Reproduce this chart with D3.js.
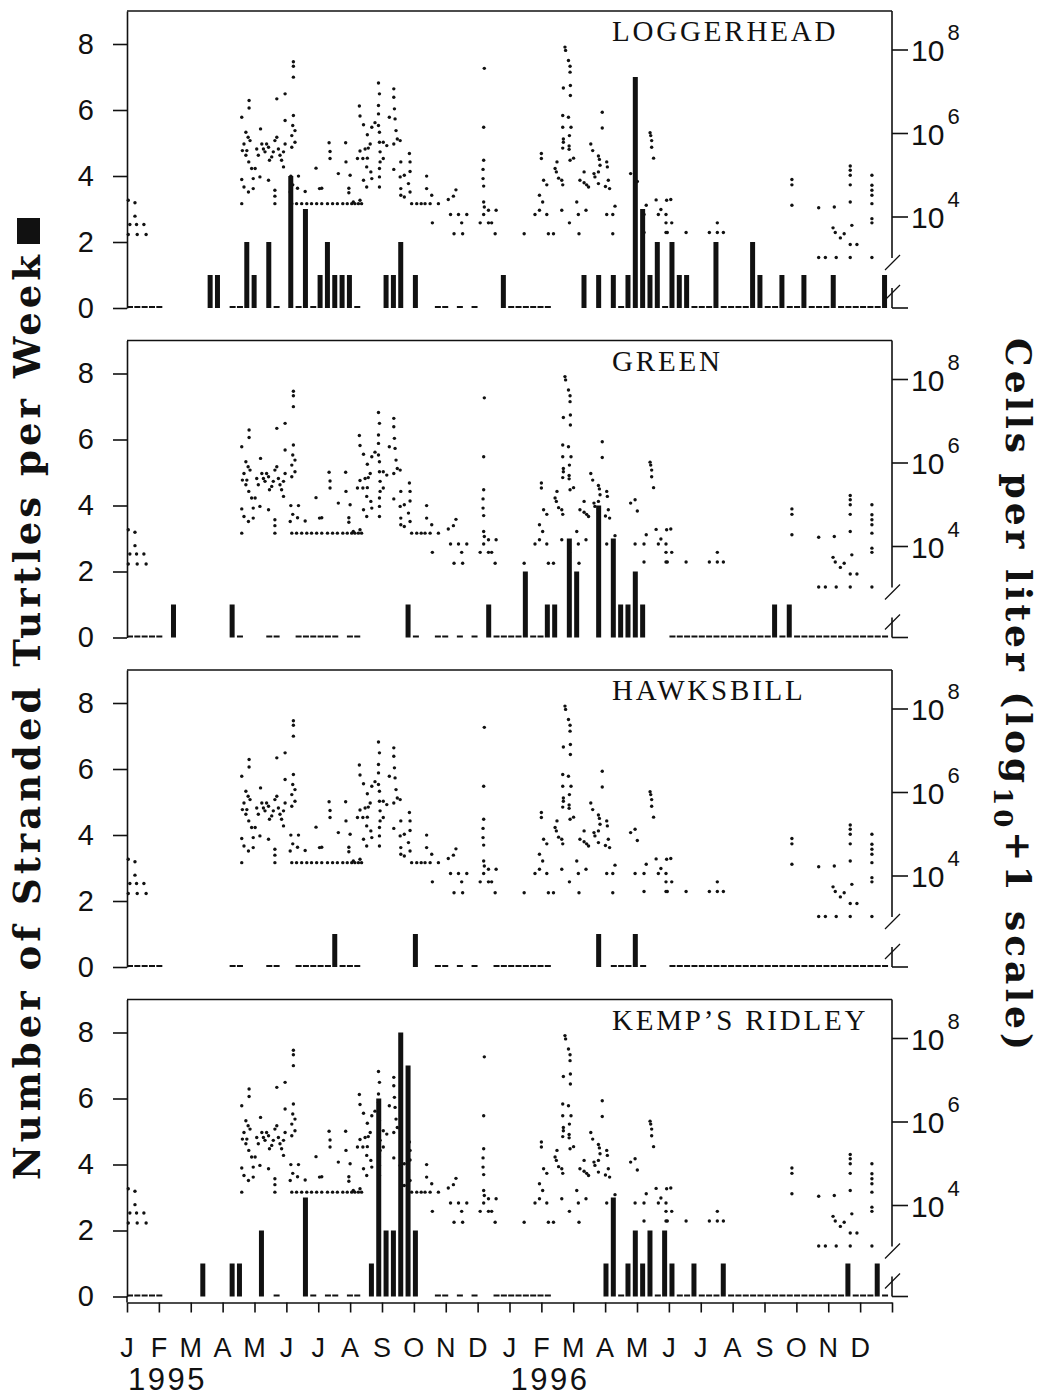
<!DOCTYPE html>
<html><head><meta charset="utf-8">
<script src="https://cdn.jsdelivr.net/npm/d3@7"></script>
<style>body{margin:0;background:#fff}svg{display:block}</style>
</head><body>
<svg id="chart" width="1045" height="1395"></svg>
<script>
// ---------- DATA ----------
const monthLabels = ["J","F","M","A","M","J","J","A","S","O","N","D","J","F","M","A","M","J","J","A","S","O","N","D"];
const yearLabels = [{month: 0, label: "1995"}, {month: 12, label: "1996"}];
const speciesNames = ["LOGGERHEAD", "GREEN", "HAWKSBILL", "KEMP\u2019S RIDLEY"];
const leftTicks = [0, 2, 4, 6, 8];
const rightTicks = [4, 6, 8];          // log10 cells per liter
const _ = null;                          // week without stranding survey

// Weekly stranding counts, week 0 = first week of Jan 1995 (13 weeks per row)
const loggerhead = [
  0,0,0,0,0,_,_,_,_,_,_,1,1,
  _,0,0,2,1,_,2,0,_,4,0,3,0,
  1,2,1,1,1,0,_,_,_,1,1,2,_,
  1,_,_,0,0,_,0,_,0,_,_,_,1,
  0,0,0,0,0,0,_,_,_,_,1,_,1,
  _,1,0,1,7,3,1,2,0,2,1,1,0,
  0,0,2,0,0,0,0,2,1,0,0,1,0,
  0,1,0,0,0,1,0,0,0,0,0,0,1];
const green = [
  0,0,0,0,0,_,1,_,_,_,_,_,_,
  _,1,0,_,_,_,0,0,_,_,0,0,0,
  0,0,0,_,0,0,_,_,_,_,_,_,1,
  0,_,_,0,0,_,0,_,0,_,1,0,0,
  0,0,2,0,0,1,1,_,3,2,_,_,4,
  _,3,1,1,2,1,_,_,_,0,0,0,0,
  0,0,0,0,0,0,0,0,0,0,1,0,1,
  0,0,0,0,0,0,0,0,0,0,0,0,0];
const hawksbill = [
  0,0,0,0,0,_,_,_,_,_,_,_,_,
  _,0,0,_,_,_,0,0,_,_,0,0,0,
  0,0,1,0,0,0,_,_,_,_,_,_,_,
  1,_,_,0,0,_,0,_,0,_,_,0,0,
  0,0,0,0,0,0,_,_,_,_,_,_,1,
  _,0,0,0,1,0,_,_,_,0,0,0,0,
  0,0,0,0,0,0,0,0,0,0,0,0,0,
  0,0,0,0,0,0,0,0,0,0,0,0,0];
const kempsRidley = [
  0,0,0,0,0,_,_,_,_,_,1,_,_,
  _,1,1,_,_,2,_,0,_,_,_,3,0,
  _,0,0,_,0,0,_,1,6,2,2,8,7,
  2,_,_,0,0,_,0,_,0,_,_,0,0,
  0,0,0,0,0,0,_,_,_,_,_,_,_,
  1,3,0,1,2,1,2,0,2,1,0,0,1,
  0,0,0,1,0,0,0,0,0,0,0,0,0,
  0,0,0,0,0,0,0,1,0,0,0,1,0];
const speciesCounts = [loggerhead, green, hawksbill, kempsRidley];

// Cell counts: [month since Jan 1995, log10(cells per liter + 1)]
const cellDots = [
[0.04,4.40],[0.25,4.34],[0.25,4.02],[0.09,3.82],[0.30,3.82],[0.53,3.82],[0.04,3.58],[0.32,3.58],[0.60,3.58],
[3.60,6.39],[3.83,6.79],[3.83,6.61],[3.73,6.03],[3.80,5.91],[3.67,5.75],[3.62,5.59],[3.76,5.59],[3.86,5.83],[3.73,5.48],[3.82,5.32],
[3.91,5.16],[4.02,5.16],[3.96,4.92],[3.96,4.68],[3.60,4.90],[3.67,4.72],[3.81,4.60],[3.60,4.32],[4.07,5.63],[4.12,5.48],[4.19,6.11],
[4.23,5.75],[4.28,5.63],[4.38,5.75],[4.33,5.56],[4.44,5.67],[4.47,5.36],[4.54,5.44],[4.59,5.56],[4.64,5.83],[4.70,5.91],[4.70,6.83],
[4.75,5.63],[4.80,5.48],[4.85,5.36],[4.91,5.56],[4.96,5.75],[4.96,6.31],[4.96,6.95],[4.91,5.20],[4.64,4.64],[4.64,4.50],[4.64,4.32],
[4.44,4.88],[4.17,4.96],
[5.22,7.72],[5.22,7.61],[5.22,7.35],[5.22,6.43],[5.20,6.19],[5.17,5.95],[5.27,6.07],[5.17,5.67],[5.27,5.79],[5.14,4.98],[5.20,4.77],
[5.12,4.60],[5.38,4.98],[5.35,4.69],[5.59,4.61],[5.93,5.17],[6.04,4.68],[6.11,4.69],[6.34,5.78],[6.37,5.57],[6.37,5.40],[6.63,5.04],
[6.86,5.78],[6.87,5.32],[7.00,5.00],[6.96,4.69],[6.96,4.58],
[7.29,6.66],[7.31,6.42],[7.42,6.21],[7.31,5.58],[7.23,5.40],[7.40,5.40],[7.54,5.41],[7.47,5.63],[7.57,5.65],[7.63,5.75],[7.54,5.97],
[7.68,6.15],[7.78,6.26],[7.89,6.19],[7.89,7.21],[7.92,6.95],[7.89,6.67],[7.89,6.47],[7.92,6.03],[7.92,5.79],[7.52,5.20],[7.42,4.88],
[7.52,4.72],[7.65,5.08],[7.68,4.92],[7.92,5.16],[7.92,4.96],[7.92,4.72],
[5.17,4.32],[5.32,4.32],[5.48,4.32],[5.64,4.32],[5.79,4.32],[5.95,4.32],[6.11,4.32],[6.29,4.32],[6.45,4.32],[6.60,4.32],[6.77,4.32],
[6.91,4.32],[7.05,4.32],[7.15,4.32],[7.26,4.32],[7.36,4.32],[7.10,4.36],[7.31,4.40],
[7.94,5.56],[7.94,5.32],[8.04,5.79],[8.04,5.40],[8.15,5.71],[8.23,6.39],[8.37,7.07],[8.37,6.87],[8.39,6.59],[8.41,6.35],[8.37,5.75],
[8.44,6.07],[8.48,5.87],[8.57,5.83],[8.59,5.32],[8.57,4.96],[8.37,5.14],[8.59,4.68],[8.59,4.52],[8.70,5.00],[8.70,4.48],[8.83,4.80],
[8.86,5.52],[8.88,5.32],[8.88,5.09],[8.88,4.60],[8.93,4.32],[9.09,4.32],[9.23,4.32],[9.35,4.32],[9.51,4.32],[9.40,4.98],[9.40,4.68],
[9.56,4.52],[9.58,3.86],[9.77,4.32],[10.08,4.42],[10.24,4.50],[10.32,4.65],[10.15,4.06],[10.40,4.06],[10.66,4.06],[10.50,3.86],
[10.26,3.60],[10.53,3.60],
[11.21,7.56],[11.19,6.15],[11.19,5.36],[11.17,5.14],[11.17,4.92],[11.19,4.74],[11.19,4.36],[11.21,4.24],[11.19,4.06],[11.08,3.86],
[11.34,3.86],[11.44,3.86],[11.34,4.16],[11.58,4.16],[11.55,3.60],
[12.46,3.60],[12.80,4.06],[12.94,4.16],[13.04,4.36],[12.94,4.52],[13.07,4.88],[13.17,4.77],[13.00,5.40],[13.00,5.52],[13.17,4.06],
[13.22,3.60],[13.38,3.60],[13.43,5.16],[13.49,5.32],[13.47,5.08],[13.54,4.93],[13.64,4.88],[13.67,4.77],[13.64,4.16],
[13.74,8.07],[13.76,7.99],[13.85,7.75],[13.90,7.61],[13.90,7.47],[13.69,7.09],[13.91,7.15],[13.91,6.91],[13.67,6.43],[13.85,6.39],
[13.67,6.15],[13.93,6.15],[13.88,5.95],[13.69,5.87],[13.69,5.79],[13.87,5.70],[13.87,5.62],[13.67,5.65],[14.01,5.41],[13.90,5.36],
[14.11,4.36],[13.88,3.86],[14.18,3.60],[14.16,4.06],[14.34,5.08],[14.21,4.88],[14.34,4.82],[14.42,4.77],[14.48,4.72],[14.40,4.16],
[14.55,5.75],[14.61,5.59],[14.65,5.04],[14.68,4.96],[14.79,5.46],[14.82,5.38],[14.79,5.08],[14.84,5.24],[14.79,4.80],[14.91,6.51],
[14.91,6.13],[15.05,5.32],[15.07,5.20],[15.10,4.88],[15.01,4.73],[15.14,4.68],[15.05,4.06],[15.24,4.06],[15.31,4.26],[15.24,3.60],
[15.80,5.04],[15.94,5.12],[16.01,4.85],[15.94,4.06],
[16.41,6.02],[16.43,5.95],[16.46,5.83],[16.46,5.67],[16.52,5.41],[16.29,4.28],[16.22,4.06],[16.22,3.63],[16.60,4.41],[16.67,4.06],
[16.75,4.18],[16.91,4.06],[16.91,3.86],[17.09,3.86],[16.93,4.40],[17.06,4.42],[16.91,3.63],[16.95,3.63],[17.54,3.63],[18.27,3.63],
[18.52,3.86],[18.52,3.63],[18.71,3.63],
[20.86,4.90],[20.86,4.77],[20.86,4.28],
[21.70,4.22],[22.19,4.24],[21.70,3.03],[21.91,3.03],[22.25,3.03],[22.15,3.74],[22.22,3.63],[22.38,3.50],[22.50,3.60],[22.74,3.80],
[22.69,4.36],[22.69,4.77],[22.69,5.00],[22.69,5.12],[22.69,5.22],[22.69,3.34],[22.90,3.34],[22.69,3.03],
[23.37,5.00],[23.37,4.76],[23.37,4.64],[23.37,4.52],[23.37,4.32],[23.37,3.96],[23.37,3.86],[23.37,3.03]
];

// ---------- DRAWING ----------
const svg = d3.select("#chart");
const ink = "#111";
const sans = "'Liberation Sans', Arial, sans-serif";
const x = d3.scaleLinear().domain([0, 24]).range([127, 892]);
const weekToMonth = w => w * 7 / 30.4375;
const xLeft = x.range()[0], xRight = x.range()[1];

speciesCounts.forEach((counts, i) => {
  const b = 308 + i * 329.5;
  const yL = d3.scaleLinear().domain([0, 9]).range([b, b - 297]);
  const yR = d3.scaleLinear().domain([4, 8]).range([b - 91, b - 258]);
  const g = svg.append("g");

  // top frame
  g.append("line").attr("x1", xLeft).attr("x2", xRight).attr("y1", yL(9)).attr("y2", yL(9))
    .attr("stroke", ink).attr("stroke-width", 1.6);

  // left axis
  const la = g.append("g").attr("transform", `translate(${xLeft},0)`)
    .call(d3.axisLeft(yL).tickValues(leftTicks).tickSize(14).tickSizeOuter(0).tickPadding(19));
  la.selectAll("path,line").attr("stroke", ink).attr("stroke-width", 1.6);
  la.selectAll("text").attr("font-family", sans).attr("font-size", 29).attr("fill", ink);

  // right axis with break
  g.append("line").attr("x1", xRight).attr("x2", xRight).attr("y1", yL(9)).attr("y2", b - 50)
    .attr("stroke", ink).attr("stroke-width", 1.6);
  g.append("line").attr("x1", xRight).attr("x2", xRight).attr("y1", b - 20).attr("y2", b)
    .attr("stroke", ink).attr("stroke-width", 1.6);
  [[b - 38, b - 53], [b - 8, b - 23]].forEach(([y1, y2]) => {
    g.append("line").attr("x1", xRight - 7).attr("x2", xRight + 8).attr("y1", y1).attr("y2", y2)
      .attr("stroke", ink).attr("stroke-width", 1.2);
  });
  const rt = [...rightTicks.map(t => yR(t)), yL(0)];
  g.selectAll("line.rtick").data(rt).join("line").attr("class", "rtick")
    .attr("x1", xRight).attr("x2", xRight + 16).attr("y1", d => d).attr("y2", d => d)
    .attr("stroke", ink).attr("stroke-width", 1.6);
  rightTicks.forEach(t => {
    const tx = g.append("text").attr("x", xRight + 19).attr("y", yR(t) + 11)
      .attr("font-family", sans).attr("font-size", 30).attr("fill", ink);
    tx.append("tspan").text("10");
    tx.append("tspan").attr("dx", 3).attr("dy", -21).attr("font-size", 22).text(String(t));
  });

  // cell-count dots
  g.append("g").selectAll("circle").data(cellDots).join("circle")
    .attr("cx", d => x(d[0])).attr("cy", d => yR(d[1])).attr("r", 1.7).attr("fill", ink);

  // weekly bars
  const weeks = counts.map((v, w) => ({w, v})).filter(d => d.v !== null);
  g.append("g").selectAll("rect").data(weeks).join("rect")
    .attr("x", d => x(weekToMonth(d.w)))
    .attr("width", d => d.v > 0 ? 5 : 6)
    .attr("y", d => d.v > 0 ? yL(d.v) : b - 2)
    .attr("height", d => d.v > 0 ? b - yL(d.v) : 2)
    .attr("fill", ink);

  // species title
  g.append("text").attr("x", 612).attr("y", yL(9) + 30)
    .attr("font-family", "'Liberation Serif', 'Times New Roman', serif").attr("font-size", 29)
    .attr("letter-spacing", 2.8).attr("fill", ink).text(speciesNames[i]);

  // bottom time axis on last panel
  if (i === speciesCounts.length - 1) {
    const xa = svg.append("g").attr("transform", `translate(0,${b + 6})`)
      .call(d3.axisBottom(x).tickValues(d3.range(25)).tickSize(10).tickSizeOuter(0).tickFormat(""));
    xa.selectAll("path,line").attr("stroke", ink).attr("stroke-width", 1.6);
    svg.append("line").attr("x1", xLeft).attr("x2", xLeft).attr("y1", b).attr("y2", b + 6)
      .attr("stroke", ink).attr("stroke-width", 1.6);
    svg.append("g").selectAll("text").data(monthLabels).join("text")
      .attr("x", (d, k) => x(k)).attr("y", b + 60).attr("text-anchor", "middle")
      .attr("font-family", sans).attr("font-size", 27).attr("fill", ink).text(d => d);
    svg.append("g").selectAll("text").data(yearLabels).join("text")
      .attr("x", d => x(d.month) + 1).attr("y", b + 93)
      .attr("font-family", sans).attr("font-size", 31).attr("letter-spacing", 2.5)
      .attr("fill", ink).text(d => d.label);
  }
});

// axis titles
const serifBold = "'DejaVu Serif', serif";
svg.append("text").attr("transform", "translate(40,1180) rotate(-90)")
  .attr("font-family", serifBold).attr("font-weight", "bold").attr("font-size", 37)
  .attr("textLength", 925).attr("lengthAdjust", "spacing").attr("fill", ink)
  .text("Number of Stranded Turtles per Week");
svg.append("rect").attr("x", 17).attr("y", 218).attr("width", 23).attr("height", 26).attr("fill", ink);

const rtitle = svg.append("text").attr("transform", "translate(1006,338) rotate(90)")
  .attr("font-family", serifBold).attr("font-weight", "bold").attr("font-size", 36)
  .attr("textLength", 712).attr("lengthAdjust", "spacing").attr("fill", ink);
rtitle.append("tspan").text("Cells per liter (log");
rtitle.append("tspan").attr("dy", 12).attr("font-size", 26).text("10");
rtitle.append("tspan").attr("dy", -12).text("+1 scale)");
</script>
</body></html>
